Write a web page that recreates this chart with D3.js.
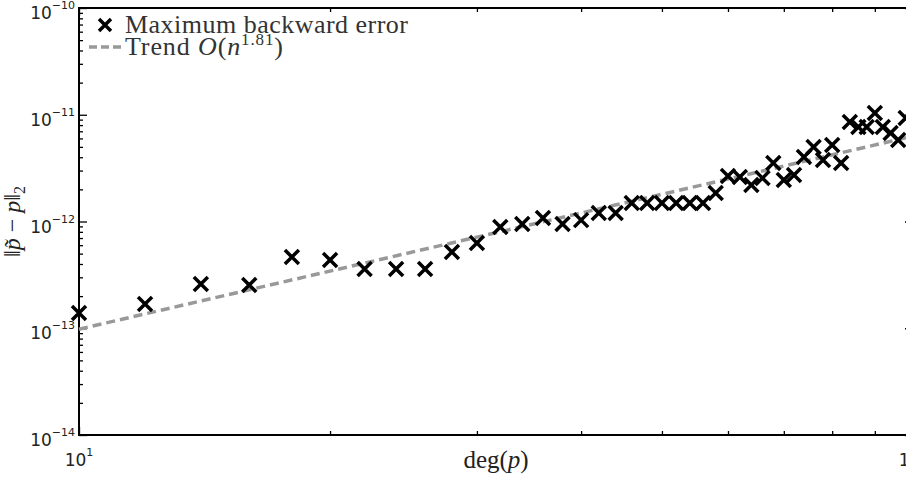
<!DOCTYPE html>
<html><head><meta charset="utf-8">
<script src="https://cdn.jsdelivr.net/npm/d3@7"></script>
<style>body{margin:0;background:#fff;} svg{display:block}</style>
</head><body>
<svg id="c" width="906" height="477"></svg>
<script>
// ---- data ----
const degrees = [10,12,14,16,18,20,22,24,26,28,30,32,34,36,38,40,42,44,46,48,50,52,54,56,58,
                 60,62,64,66,68,70,72,74,76,78,80,82,84,86,88,90,92,94,96,98];
const errors = [1.39e-13,1.69e-13,2.60e-13,2.54e-13,4.65e-13,4.36e-13,3.59e-13,3.59e-13,3.59e-13,5.18e-13,
                6.29e-13,8.88e-13,9.48e-13,1.08e-12,9.48e-13,1.03e-12,1.20e-12,1.20e-12,
                1.49e-12,1.49e-12,1.49e-12,1.49e-12,1.49e-12,1.49e-12,1.85e-12,
                2.67e-12,2.61e-12,2.20e-12,2.55e-12,3.53e-12,2.45e-12,2.73e-12,4.02e-12,4.99e-12,3.77e-12,5.21e-12,3.53e-12,
                8.55e-12,7.68e-12,7.68e-12,1.04e-11,7.68e-12,6.75e-12,5.80e-12,9.32e-12];
const trendDegrees = [10, 100];
const trendValues = [9.8e-14, 6.3e-12];
const xMajorTicks = [10, 100];
const xTickExponents = ["1", "2"];
const xMinorTicks = [20,30,40,50,60,70,80,90];
const yMajorTicks = [1e-14,1e-13,1e-12,1e-11,1e-10];
const yTickExponents = ["\u221214","\u221213","\u221212","\u221211","\u221210"];
const legendLabels = ["Maximum backward error", "Trend"];

// ---- scales ----
const pL = 79, pR = 913, pT = 8, pB = 435;
const x = d3.scaleLog().domain([10,100]).range([pL,pR]);
const y = d3.scaleLog().domain([1e-14,1e-10]).range([pB,pT]);
const yMinorTicks = [];
[-14,-13,-12,-11].forEach(e => { for (let k=2;k<=9;k++) yMinorTicks.push(k*Math.pow(10,e)); });

const svg = d3.select("#c");
const sans = "DejaVu Sans, Liberation Sans, sans-serif";
const serif = "'Liberation Serif', 'DejaVu Serif', serif";

// ---- axes ticks (inward) ----
function addAxis(gen, tx, ty, ticks, size) {
  const g = svg.append("g").attr("transform", `translate(${tx},${ty})`)
    .call(gen.tickValues(ticks).tickSize(size).tickFormat("").tickSizeOuter(0));
  g.select(".domain").remove();
  g.selectAll(".tick line").attr("stroke","#000").attr("stroke-width",1.3);
}
addAxis(d3.axisRight(y), pL, 0, yMajorTicks, 8);
addAxis(d3.axisRight(y), pL, 0, yMinorTicks, 4);
addAxis(d3.axisLeft(y), pR, 0, yMajorTicks, 8);
addAxis(d3.axisLeft(y), pR, 0, yMinorTicks, 4);
addAxis(d3.axisTop(x), 0, pB, xMajorTicks, 8);
addAxis(d3.axisTop(x), 0, pB, xMinorTicks, 4);
addAxis(d3.axisBottom(x), 0, pT, xMajorTicks, 8);
addAxis(d3.axisBottom(x), 0, pT, xMinorTicks, 4);

// frame
svg.append("rect").attr("x",pL).attr("y",pT).attr("width",pR-pL).attr("height",pB-pT)
  .attr("fill","none").attr("stroke","#000").attr("stroke-width",2);

// ---- tick labels ----
yMajorTicks.forEach((v,i) => {
  const t = svg.append("text").attr("x", 75).attr("y", y(v)+11)
    .attr("text-anchor","end").attr("font-family",sans).attr("fill","#222");
  t.append("tspan").attr("font-size",17).text("10");
  t.append("tspan").attr("font-size",11).attr("dy",-10).text(yTickExponents[i]);
});
xMajorTicks.forEach((v,i) => {
  const t = svg.append("text").attr("x", x(v)).attr("y", 466)
    .attr("text-anchor","middle").attr("font-family",sans).attr("fill","#222");
  t.append("tspan").attr("font-size",17).text("10");
  t.append("tspan").attr("font-size",11).attr("dy",-10).text(xTickExponents[i]);
});

// ---- axis labels ----
const xl = svg.append("text").attr("x", (pL+pR)/2).attr("y", 468)
  .attr("text-anchor","middle").attr("font-family",serif).attr("font-size",25).attr("fill","#222");
xl.append("tspan").text("deg(");
xl.append("tspan").attr("font-style","italic").text("p");
xl.append("tspan").text(")");

const yl = svg.append("text").attr("transform",`translate(20,${(pT+pB)/2}) rotate(-90)`)
  .attr("text-anchor","middle").attr("font-family",serif).attr("font-size",24).attr("fill","#222");
yl.append("tspan").text("\u2016");
yl.append("tspan").attr("font-style","italic").text("p\u0303");
yl.append("tspan").text(" \u2212 ");
yl.append("tspan").attr("font-style","italic").text("p");
yl.append("tspan").text("\u2016");
yl.append("tspan").attr("font-size",16).attr("dy",5).text("2");

// ---- trend line ----
const line = d3.line().x((d,i)=>x(trendDegrees[i])).y((d,i)=>y(trendValues[i]));
svg.append("path").datum(trendValues).attr("d", line)
  .attr("fill","none").attr("stroke","#999").attr("stroke-width",3.5).attr("stroke-dasharray","9,5");

// ---- markers ----
const xMark = "M-7,-7L7,7M-7,7L7,-7";
svg.append("g").selectAll("path").data(degrees).join("path")
  .attr("transform",(d,i)=>`translate(${x(d)},${y(errors[i])})`)
  .attr("d", xMark).attr("fill","none").attr("stroke","#000").attr("stroke-width",3.5);

// ---- legend ----
svg.append("path").attr("transform","translate(105,25)").attr("d","M-6,-6L6,6M-6,6L6,-6")
  .attr("stroke","#000").attr("stroke-width",3.5).attr("fill","none");
svg.append("line").attr("x1",89).attr("x2",122).attr("y1",47).attr("y2",47)
  .attr("stroke","#999").attr("stroke-width",3.5).attr("stroke-dasharray","8,4");
svg.append("text").attr("x",125).attr("y",33).attr("font-family",serif).attr("font-size",26)
  .attr("fill","#333").attr("textLength",283).attr("lengthAdjust","spacing").text(legendLabels[0]);
const lt = svg.append("text").attr("x",125).attr("y",55).attr("font-family",serif).attr("font-size",26)
  .attr("fill","#333").attr("textLength",158).attr("lengthAdjust","spacing");
lt.append("tspan").text(legendLabels[1] + " ");
lt.append("tspan").attr("font-style","italic").text("O");
lt.append("tspan").text("(");
lt.append("tspan").attr("font-style","italic").text("n");
lt.append("tspan").attr("font-size",17).attr("dy",-10).text("1.81");
lt.append("tspan").attr("dy",10).text(")");
</script>
</body></html>
